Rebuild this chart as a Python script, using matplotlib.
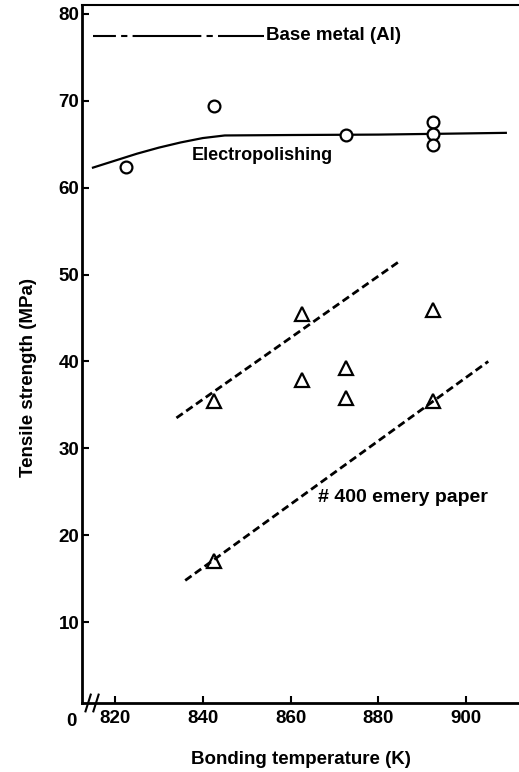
import matplotlib
matplotlib.use("Agg")
import matplotlib.pyplot as plt

# Electropolishing (circles)
ep_temp = [822.5, 842.5, 872.5, 892.5, 892.5, 892.5]
ep_strength = [62.4, 69.4, 66.0, 67.5, 66.2, 64.9]
ep_curve_t = [815, 820, 825, 830, 835, 840, 845, 860, 880, 895, 909]
ep_curve_s = [62.3, 63.1, 63.9, 64.6, 65.2, 65.7, 66.0, 66.05, 66.1, 66.2, 66.3]

# #400 emery paper (triangles)
em_temp = [842.5, 862.5, 862.5, 872.5, 872.5, 892.5, 892.5, 842.5]
em_strength = [35.4, 45.4, 37.9, 39.2, 35.8, 45.9, 35.4, 17.0]
em_upper_t = [834, 885]
em_upper_s = [33.5, 51.6]
em_lower_t = [836, 905]
em_lower_s = [14.8, 40.0]

# base metal
base_t = [815, 854]
base_s = [77.5, 77.5]

xticks = [820, 840, 860, 880, 900]
yticks = [10, 20, 30, 40, 50, 60, 70, 80]

plt.rcParams['font.family'] = ['Liberation Sans', 'DejaVu Sans']
plt.rcParams['font.weight'] = 'bold'
plt.rcParams['axes.labelweight'] = 'bold'

fig = plt.figure(figsize=(5.19, 7.72), dpi=100)
ax = fig.add_axes([0.158, 0.0894, 0.842, 0.904])

ax.plot(base_t, base_s, color='black', lw=1.5, ls=(22, (33, 2.5, 3, 2.5)))
ax.plot(ep_curve_t, ep_curve_s, color='black', lw=1.6)
ax.plot(ep_temp, ep_strength, 'o', ms=8.5, mfc='white', mec='black', mew=1.6)

ax.plot(em_upper_t, em_upper_s, color='black', lw=2.0, dashes=[2.8, 1.5])
ax.plot(em_lower_t, em_lower_s, color='black', lw=2.0, dashes=[2.8, 1.5])
ax.plot(em_temp, em_strength, '^', ms=10.5, mfc='none', mec='black', mew=1.6)

ax.text(854.3, 77.5, 'Base metal (Al)', fontsize=13.5, va='center', ha='left')
ax.text(837.5, 63.7, 'Electropolishing', fontsize=13, va='center', ha='left')
ax.text(866.2, 24.3, '# 400 emery paper', fontsize=14, va='center', ha='left')

ax.set_xlim(812.5, 912)
ax.set_ylim(0.7, 81)
ax.set_xticks(xticks)
ax.set_yticks(yticks)
ax.tick_params(direction='in', length=5, width=1.5, labelsize=13.5, pad=5)
ax.tick_params(axis='y', pad=2)

ax.spines['right'].set_visible(False)
ax.spines['left'].set_linewidth(2.0)
ax.spines['bottom'].set_linewidth(2.0)
ax.spines['top'].set_linewidth(1.5)

# origin label and axis break
ax.text(-0.024, -0.014, '0', transform=ax.transAxes, fontsize=13.5, ha='center', va='top')
for xb in [0.014, 0.032]:
    ax.plot([xb - 0.006, xb + 0.006], [-0.012, 0.012], color='black', lw=1.5,
            transform=ax.transAxes, clip_on=False)

ax.set_xlabel('Bonding temperature (K)', fontsize=13.5, labelpad=17)
ax.set_ylabel('Tensile strength (MPa)', fontsize=13.5)
ax.yaxis.set_label_coords(-0.103, 0.466)

fig.savefig('out.png', dpi=100)
